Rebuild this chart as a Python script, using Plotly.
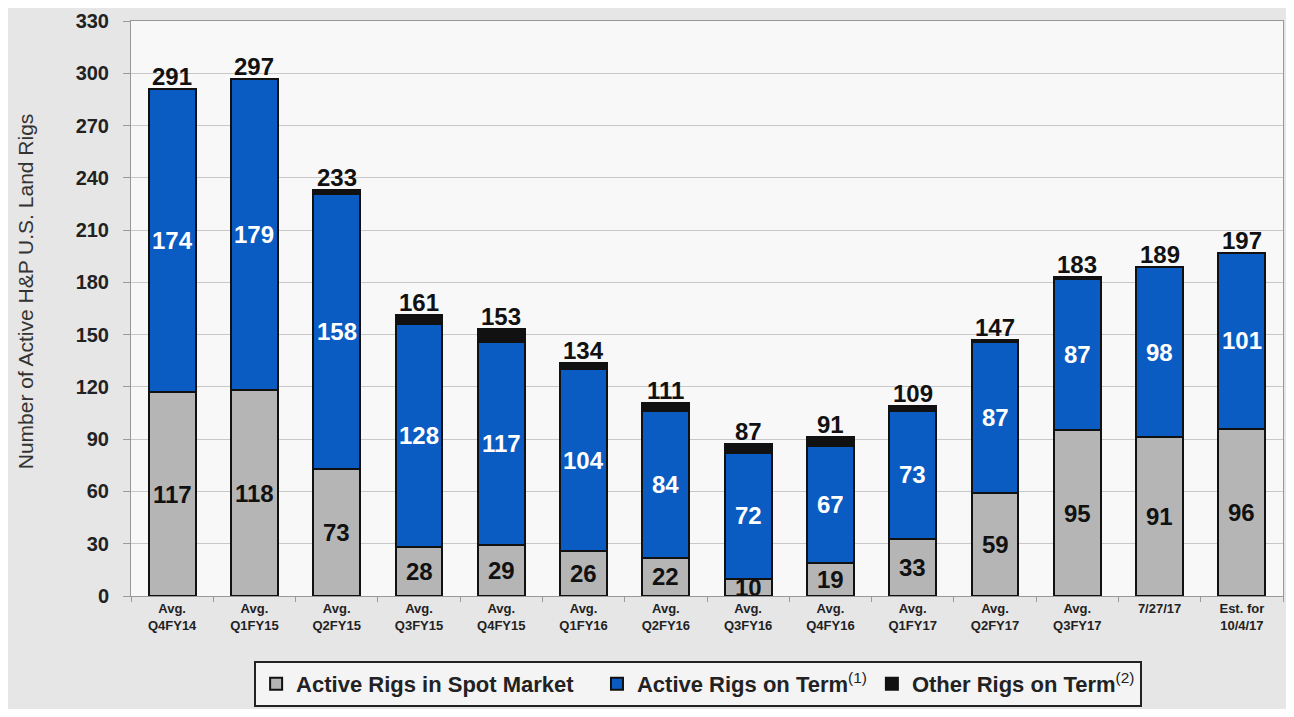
import plotly.graph_objects as go

categories = ["Avg.<br>Q4FY14", "Avg.<br>Q1FY15", "Avg.<br>Q2FY15", "Avg.<br>Q3FY15", "Avg.<br>Q4FY15",
              "Avg.<br>Q1FY16", "Avg.<br>Q2FY16", "Avg.<br>Q3FY16", "Avg.<br>Q4FY16", "Avg.<br>Q1FY17",
              "Avg.<br>Q2FY17", "Avg.<br>Q3FY17", "7/27/17<br> ", "Est. for<br>10/4/17"]
spot = [117, 118, 73, 28, 29, 26, 22, 10, 19, 33, 59, 95, 91, 96]
term = [174, 179, 158, 128, 117, 104, 84, 72, 67, 73, 87, 87, 98, 101]
other = [0, 0, 2, 5, 7, 4, 5, 5, 5, 3, 1, 1, 0, 0]
totals = [291, 297, 233, 161, 153, 134, 111, 87, 91, 109, 147, 183, 189, 197]
y_ticks = list(range(0, 331, 30))

GREY = "#b5b5b5"
BLUE = "#0a5bc2"
BLACK = "#111111"
FONT = "Liberation Sans, Arial, sans-serif"

fig = go.Figure()
line = dict(color="#111111", width=2)
fig.add_trace(go.Bar(x=categories, y=spot, name="<b>Active Rigs in Spot Market</b>   ",
                     marker=dict(color=GREY, line=line)))
fig.add_trace(go.Bar(x=categories, y=term, name="<b>Active Rigs on Term</b><sup>(1)</sup>",
                     marker=dict(color=BLUE, line=line)))
fig.add_trace(go.Bar(x=categories, y=other, name="<b>Other Rigs on Term</b><sup>(2)</sup>",
                     marker=dict(color=BLACK, line=line)))

annotations = []
for c, s, t, tot in zip(categories, spot, term, totals):
    annotations.append(dict(x=c, y=s / 2, text=f"<b>{s}</b>", showarrow=False,
                            font=dict(size=24, color="#111111", family=FONT)))
    annotations.append(dict(x=c, y=s + t / 2, text=f"<b>{t}</b>", showarrow=False,
                            font=dict(size=24, color="white", family=FONT)))
    annotations.append(dict(x=c, y=tot, text=f"<b>{tot}</b>", showarrow=False,
                            yanchor="bottom", yshift=-3,
                            font=dict(size=24, color="#111111", family=FONT)))
annotations.append(dict(xref="paper", yref="paper", x=0, y=0.53, xshift=-106, xanchor="center",
                        text="Number of Active H&P U.S. Land Rigs", textangle=-90, showarrow=False,
                        font=dict(size=21, family=FONT, color="#333333")))

fig.update_layout(
    barmode="stack",
    bargap=0.43,
    width=1278, height=701,
    margin=dict(l=123, r=3, t=13, b=113),
    paper_bgcolor="#e6e6e6",
    plot_bgcolor="#f8f8f8",
    font=dict(family=FONT, color="#222222"),
    annotations=annotations,
    legend=dict(orientation="h", x=0.54, xanchor="center", xref="container",
                y=0.003, yanchor="bottom", yref="container",
                bordercolor="#222222", borderwidth=2, bgcolor="#f4f4f4",
                font=dict(size=22, family=FONT, color="#222222"),
                itemwidth=30, traceorder="normal"),
    yaxis=dict(range=[0, 330], tickvals=y_ticks, ticktext=[f"<b>{v}</b>" for v in y_ticks],
               showgrid=True, gridcolor="#c8c8c8", automargin=False, ticklabeloverflow="allow",
               gridwidth=1, zeroline=False, showline=True, linecolor="#999999", mirror=True,
               tickfont=dict(size=20, family=FONT, color="#222222"),
               ticks="outside", ticklen=7, tickcolor="#999999", ticklabelstandoff=10),
    xaxis=dict(showline=True, linecolor="#999999", mirror=True, tickson="boundaries",
               ticks="outside", ticklen=5, tickcolor="#999999", automargin=False,
               tickvals=categories, ticktext=[f"<b>{c}</b>".replace("<br>", "</b><br><b>") for c in categories],
               tickfont=dict(size=13, family=FONT, color="#222222")),
)

fig.write_html("out.html")
